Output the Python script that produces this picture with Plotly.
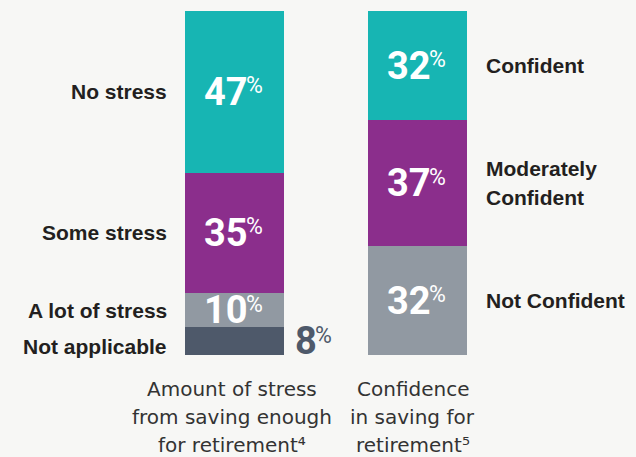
import plotly.graph_objects as go

# Survey results: share of respondents per answer (percent)
stress_labels = ["Not applicable", "A lot of stress", "Some stress", "No stress"]
stress_values = [8, 10, 35, 47]
confidence_labels = ["Not Confident", "Moderately<br>Confident", "Confident"]
confidence_values = [32, 37, 32]

stress_caption = ["Amount of stress", "from saving enough", "for retirement⁴"]
confidence_caption = ["Confidence", "in saving for", "retirement⁵"]

stress_colors = ["#4e596a", "#9199a2", "#8b2e8c", "#17b5b3"]
confidence_colors = ["#9199a2", "#8b2e8c", "#17b5b3"]

bar_x = [0, 1]
bar_width = 0.541
bg = "#f7f7f5"
label_font = "Liberation Sans, Arial, sans-serif"
num_font = "Roboto, sans-serif"
caption_font = "DejaVu Sans, sans-serif"
dark = "#231f20"

fig = go.Figure()
for v, c, name in zip(stress_values, stress_colors, stress_labels):
    fig.add_trace(go.Bar(x=[bar_x[0]], y=[v], width=bar_width, marker_color=c,
                         marker_line_width=0, name=name, showlegend=False, hoverinfo="skip"))
for v, c, name in zip(confidence_values, confidence_colors, confidence_labels):
    fig.add_trace(go.Bar(x=[bar_x[1]], y=[v], width=bar_width, marker_color=c,
                         marker_line_width=0, name=name, showlegend=False, hoverinfo="skip"))


def centers(values):
    """Middle of each stacked segment, on the 0-100 normalised scale."""
    total = sum(values)
    out, cum = [], 0
    for v in values:
        out.append((cum + v / 2) * 100 / total)
        cum += v
    return out


ann = []


def add_pct(x, y, v, color, dx=0):
    # number right-aligned, smaller "%" sign set to its upper right
    ann.append(dict(x=x, y=y, text=f"<b>{v}</b>", xanchor="right", xshift=dx + 14,
                    borderpad=0, font=dict(family=num_font, size=38, color=color)))
    ann.append(dict(x=x, y=y, text="%", xanchor="left", xshift=dx + 10, yshift=6,
                    borderpad=0, font=dict(family=num_font, size=23, color=color)))


def add_label(x, y, text, anchor, dx, dy=0):
    lines = text.split("<br>")
    n = len(lines)
    for k, line in enumerate(lines):
        ann.append(dict(x=x, y=y, text=f"<b>{line}</b>", xanchor=anchor, xshift=dx,
                        yshift=dy + (n - 1) * 14.5 - 29 * k,
                        font=dict(family=label_font, size=21, color=dark)))


# left bar: value labels and category names
for v, name, yc in zip(stress_values, stress_labels, centers(stress_values)):
    if name == "Not applicable":
        add_pct(bar_x[0] + bar_width / 2, yc, v, "#4e596a", dx=20)
        add_label(bar_x[0] - bar_width / 2, yc, name, "right", -16, dy=-5)
    else:
        add_pct(bar_x[0], yc, v, "white")
        add_label(bar_x[0] - bar_width / 2, yc, name, "right", -16)

# right bar
for v, name, yc in zip(confidence_values, confidence_labels, centers(confidence_values)):
    add_pct(bar_x[1], yc, v, "white")
    add_label(bar_x[1] + bar_width / 2, yc, name, "left", 17)

# captions below each bar
for xc, lines, dx in [(bar_x[0], stress_caption, -3), (bar_x[1], confidence_caption, -5)]:
    for k, line in enumerate(lines):
        ann.append(dict(x=xc, y=0, xshift=dx, yshift=-20 - 28 * k, yanchor="top",
                        text=line, font=dict(family=caption_font, size=20, color="#333333")))

for a in ann:
    a.update(showarrow=False, xref="x", yref="y")

fig.update_layout(
    width=636, height=457,
    margin=dict(l=0, r=0, t=0, b=0),
    paper_bgcolor=bg, plot_bgcolor=bg,
    barmode="stack", barnorm="percent",
    annotations=ann,
    xaxis=dict(range=[-1.28142, 2.19399], visible=False, fixedrange=True),
    yaxis=dict(range=[-29.65, 103.2], visible=False, fixedrange=True),
)

fig.write_html("out.html")
